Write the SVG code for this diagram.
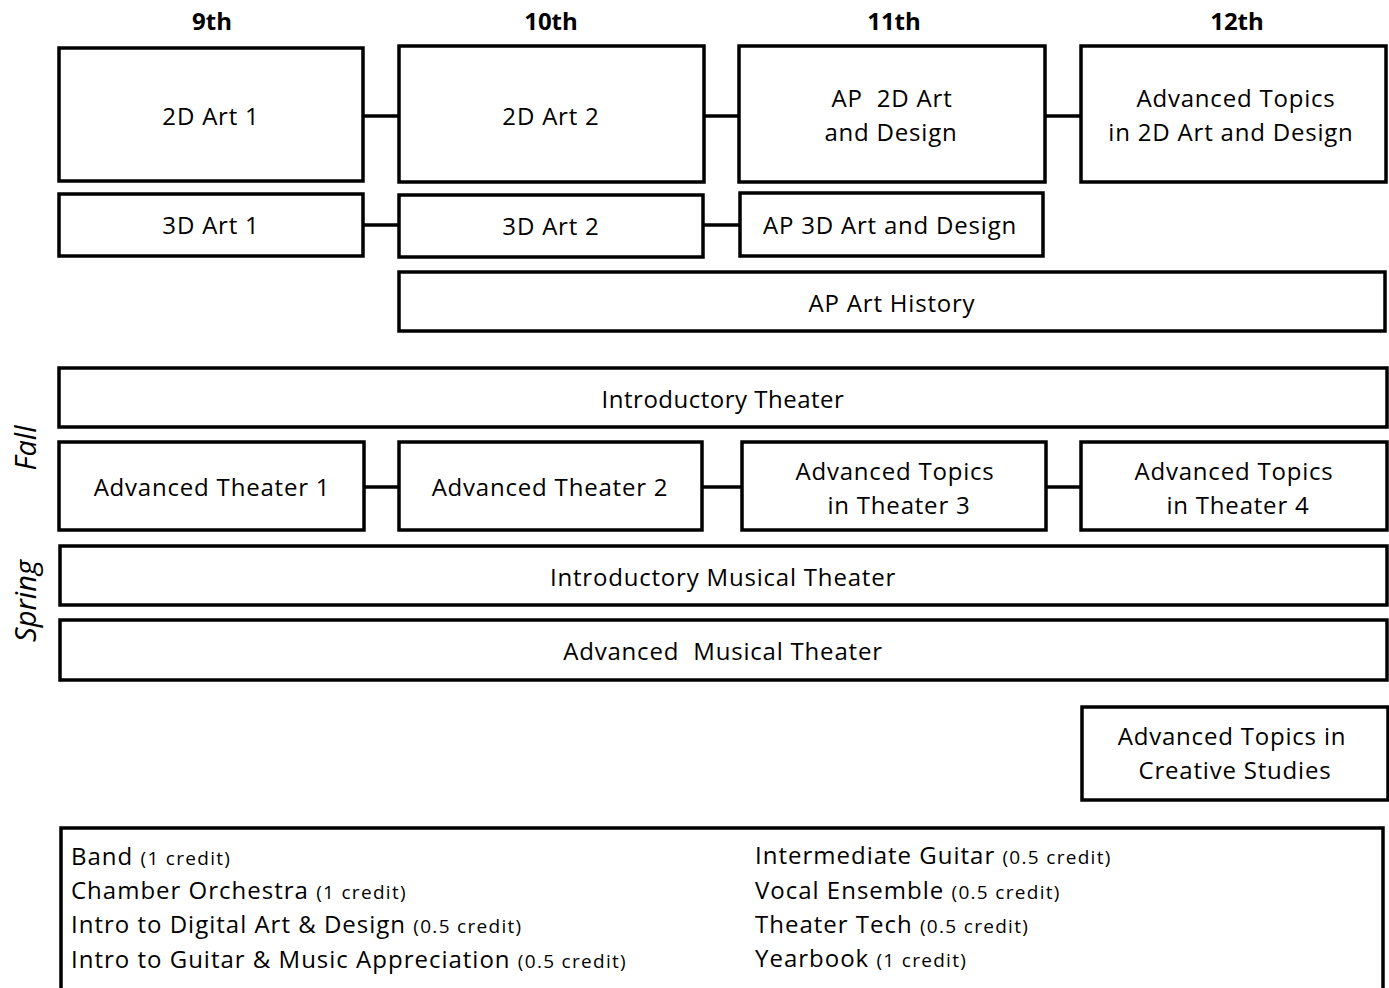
<svg xmlns="http://www.w3.org/2000/svg" width="1389" height="988" viewBox="0 0 1389 988">
<style>
.b{fill:#fff;stroke:#000;stroke-width:3.5}
.c{stroke:#000;stroke-width:3.5;fill:none}
.t{font-family:"Open Sans","Noto Sans",sans-serif;font-size:24px;fill:#000;text-anchor:middle;letter-spacing:0.8px}
.h{font-family:"Open Sans","Noto Sans",sans-serif;font-size:24px;font-weight:bold;fill:#000;text-anchor:middle}
.s{font-family:"Open Sans","Noto Sans",sans-serif;font-size:29px;font-style:italic;fill:#000;text-anchor:middle}
.l{font-family:"Open Sans","Noto Sans",sans-serif;font-size:24px;fill:#000;letter-spacing:1px}
.sm{font-size:19px;letter-spacing:1.3px}
</style>
<rect width="1389" height="988" fill="#fff"/>
<g id="headers">
<text class="h" x="212" y="30">9th</text>
<text class="h" x="551" y="30">10th</text>
<text class="h" x="894" y="30">11th</text>
<text class="h" x="1237" y="30">12th</text>
</g>
<g id="connectors">
<line class="c" x1="363" y1="116" x2="399" y2="116"/>
<line class="c" x1="704" y1="116" x2="739" y2="116"/>
<line class="c" x1="1045" y1="116" x2="1081" y2="116"/>
<line class="c" x1="363" y1="225" x2="399" y2="225"/>
<line class="c" x1="703" y1="225" x2="740" y2="225"/>
<line class="c" x1="364" y1="487" x2="399" y2="487"/>
<line class="c" x1="702" y1="487" x2="742" y2="487"/>
<line class="c" x1="1046" y1="487" x2="1081" y2="487"/>
</g>
<g id="art2d1"><rect class="b" x="59" y="48" width="304" height="133"/><text class="t" x="211" y="125">2D Art 1</text></g>
<g id="art2d2"><rect class="b" x="399" y="46" width="305" height="136"/><text class="t" x="551" y="125">2D Art 2</text></g>
<g id="ap2d"><rect class="b" x="739" y="46" width="306" height="136"/><text class="t" x="892" y="107">AP&#160; 2D Art</text><text class="t" x="891" y="141">and Design</text></g>
<g id="adv2d"><rect class="b" x="1081" y="46" width="305" height="136"/><text class="t" x="1236" y="107">Advanced Topics</text><text class="t" x="1231" y="141">in 2D Art and Design</text></g>
<g id="art3d1"><rect class="b" x="59" y="194" width="304" height="62"/><text class="t" x="211" y="234">3D Art 1</text></g>
<g id="art3d2"><rect class="b" x="399" y="195" width="304" height="62"/><text class="t" x="551" y="235">3D Art 2</text></g>
<g id="ap3d"><rect class="b" x="740" y="193" width="303" height="63"/><text class="t" x="890" y="234">AP 3D Art and Design</text></g>
<g id="aphist"><rect class="b" x="399" y="272" width="986" height="59"/><text class="t" x="892" y="312">AP Art History</text></g>
<g id="introth"><rect class="b" x="59" y="368" width="1328" height="59"/><text class="t" x="723" y="408" style="letter-spacing:0.5px">Introductory  Theater</text></g>
<g id="advth1"><rect class="b" x="59" y="442" width="305" height="88"/><text class="t" x="212" y="496">Advanced Theater 1</text></g>
<g id="advth2"><rect class="b" x="399" y="442" width="303" height="88"/><text class="t" x="550" y="496">Advanced Theater 2</text></g>
<g id="advth3"><rect class="b" x="742" y="442" width="304" height="88"/><text class="t" x="895" y="480">Advanced Topics</text><text class="t" x="899" y="514">in Theater 3</text></g>
<g id="advth4"><rect class="b" x="1081" y="442" width="306" height="88"/><text class="t" x="1234" y="480">Advanced Topics</text><text class="t" x="1238" y="514">in Theater 4</text></g>
<g id="intromt"><rect class="b" x="60" y="546" width="1327" height="59"/><text class="t" x="723" y="586">Introductory Musical Theater</text></g>
<g id="advmt"><rect class="b" x="60" y="620" width="1327" height="60"/><text class="t" x="723" y="660">Advanced&#160; Musical Theater</text></g>
<g id="creative"><rect class="b" x="1082" y="707" width="306" height="93"/><text class="t" x="1232" y="745">Advanced Topics in</text><text class="t" x="1235" y="779">Creative Studies</text></g>
<g id="seasons">
<text class="s" transform="translate(36,448) rotate(-90)">Fall</text>
<text class="s" transform="translate(36,601) rotate(-90)">Spring</text>
</g>
<g id="electives">
<rect class="b" x="61" y="828" width="1322" height="200"/>
<text class="l" x="71" y="865">Band <tspan class="sm">(1 credit)</tspan></text>
<text class="l" x="71" y="899">Chamber Orchestra <tspan class="sm">(1 credit)</tspan></text>
<text class="l" x="71" y="933">Intro to Digital Art &amp; Design <tspan class="sm">(0.5 credit)</tspan></text>
<text class="l" x="71" y="968">Intro to Guitar &amp; Music Appreciation <tspan class="sm">(0.5 credit)</tspan></text>
<text class="l" x="755" y="864">Intermediate Guitar <tspan class="sm">(0.5 credit)</tspan></text>
<text class="l" x="755" y="899">Vocal Ensemble <tspan class="sm">(0.5 credit)</tspan></text>
<text class="l" x="755" y="933">Theater Tech <tspan class="sm">(0.5 credit)</tspan></text>
<text class="l" x="755" y="967">Yearbook <tspan class="sm">(1 credit)</tspan></text>
</g>
</svg>
